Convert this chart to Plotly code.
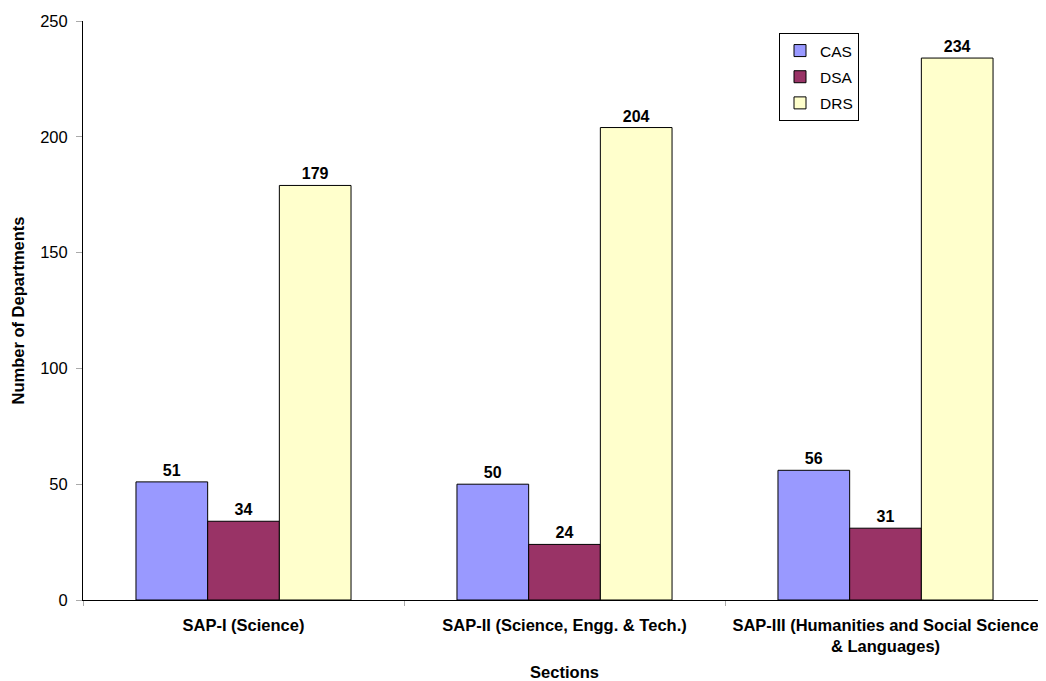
import plotly.graph_objects as go

# data
sections = ['SAP-I (Science)',
            'SAP-II (Science, Engg. & Tech.)',
            'SAP-III (Humanities and Social Science<br>& Languages)']
series_names = ['CAS', 'DSA', 'DRS']
cas = [51, 50, 56]
dsa = [34, 24, 31]
drs = [179, 204, 234]

colors = {'CAS': '#9999FF', 'DSA': '#993366', 'DRS': '#FFFFCC'}
FONT = 'Liberation Sans, Arial, sans-serif'

fig = go.Figure()
for name, vals in zip(series_names, [cas, dsa, drs]):
    fig.add_trace(go.Bar(
        x=sections,
        y=vals,
        name=name,
        legendgroup=name,
        marker=dict(color=colors[name], line=dict(color='black', width=1)),
        text=[str(v) for v in vals],
        textposition='outside',
        textfont=dict(family=FONT, size=16, color='black', weight='bold'),
        cliponaxis=False,
    ))

# page body has an 8px margin, so the figure is sized/offset to compensate
fig.update_layout(
    width=1038, height=673,
    margin=dict(l=75, r=0, t=13, b=81, autoexpand=False),
    plot_bgcolor='white',
    paper_bgcolor='white',
    barmode='group',
    bargap=0.33,
    bargroupgap=0,
    font=dict(family=FONT, size=16, color='black'),
    legend=dict(
        x=(779 - 83) / 963, y=(600 - 33) / 579,
        xanchor='left', yanchor='top',
        bordercolor='black', borderwidth=1,
        bgcolor='white',
        font=dict(size=15.5),
        tracegroupgap=3,
        itemwidth=30,
    ),
)

fig.update_xaxes(
    showline=True, linecolor='black', linewidth=1,
    ticks='outside', tickson='boundaries', tickcolor='#aaaaaa', ticklen=5,
    tickfont=dict(size=16.5, weight='bold'),
    ticklabelstandoff=10,
    title=dict(text='<b>Sections</b>', font=dict(size=16.5), standoff=12),
    showgrid=False, automargin=False,
)
fig.update_yaxes(
    range=[0, 250], dtick=50,
    showline=True, linecolor='black', linewidth=1,
    ticks='outside', tickcolor='#aaaaaa', ticklen=6,
    tickfont=dict(size=16.5),
    ticklabelstandoff=5,
    title=dict(text='<b>Number of Departments</b>', font=dict(size=16.5), standoff=11),
    showgrid=False, zeroline=False, automargin=False,
)

fig.write_html('out.html')
